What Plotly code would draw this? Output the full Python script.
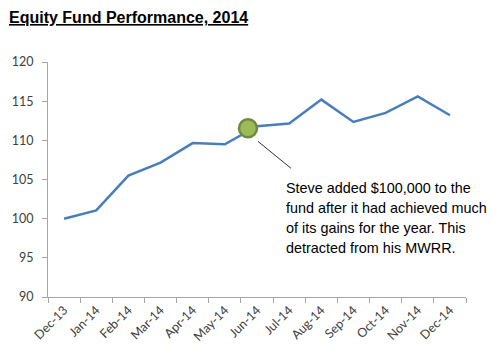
import plotly.graph_objects as go

months = ["Dec-13", "Jan-14", "Feb-14", "Mar-14", "Apr-14", "May-14", "Jun-14",
          "Jul-14", "Aug-14", "Sep-14", "Oct-14", "Nov-14", "Dec-14"]
values = [100.0, 101.05, 105.5, 107.15, 109.65, 109.5, 111.8,
          112.15, 115.2, 112.35, 113.5, 115.6, 113.2]
y_ticks = [90, 95, 100, 105, 110, 115, 120]

# highlighted event (between May and Jun)
event_pos = [5.72]
event_val = [111.55]
note_lines = ["Steve added $100,000 to the",
              "fund after it had achieved much",
              "of its gains for the year. This",
              "detracted from his MWRR."]

fig = go.Figure()
fig.add_trace(go.Scatter(x=months, y=values, mode="lines",
                         line=dict(color="#4a7ebb", width=2.5),
                         hoverinfo="skip", showlegend=False))
fig.add_trace(go.Scatter(x=event_pos, y=event_val, mode="markers", xaxis="x2",
                         marker=dict(size=18, color="#9bbb59",
                                     line=dict(color="#71893f", width=2.5)),
                         showlegend=False))

axis_col = "#a6a6a6"
fig.update_layout(
    width=496, height=347,
    margin=dict(l=40, r=38, t=54, b=58),
    paper_bgcolor="white", plot_bgcolor="white",
    xaxis=dict(type="category", tickson="boundaries", ticks="outside", ticklen=5,
               tickcolor=axis_col, showline=True, linecolor=axis_col, linewidth=1,
               showgrid=False, tickangle=-45, automargin=False,
               tickfont=dict(family="Lato, Liberation Sans, sans-serif", size=12.5, color="#404040"),
               range=[-0.5, 12.5]),
    xaxis2=dict(overlaying="x", range=[-0.5, 12.5], visible=False, automargin=False),
    yaxis=dict(range=[90, 120], tickvals=y_ticks, ticks="outside", ticklen=5,
               tickcolor=axis_col, showline=True, linecolor=axis_col, linewidth=1,
               showgrid=False, zeroline=False, ticklabelstandoff=6, automargin=False,
               tickfont=dict(family="Lato, Liberation Sans, sans-serif", size=12.5, color="#404040")),
    font=dict(family="Liberation Sans, Arial, sans-serif"),
)

fig.add_annotation(text="<u><b>Equity Fund Performance, 2014</b></u>",
                   xref="paper", yref="paper", x=-41/418, y=1 + 45/235,
                   xanchor="left", yanchor="middle", showarrow=False,
                   font=dict(family="Liberation Sans, Arial, sans-serif", size=16, color="black"))

# leader line from marker to note
fig.add_shape(type="line", xref="x2", yref="y", x0=6.03, y0=109.87, x1=7.06, y1=106.42,
              line=dict(color="#333333", width=1))

for i, line in enumerate(note_lines):
    fig.add_annotation(text=line, xref="x2", yref="y", x=6.85, y=103.9 - i * 19.8 / 7.83,
                       xanchor="left", yanchor="middle", showarrow=False, align="left",
                       font=dict(family="Liberation Sans, Arial, sans-serif", size=14.4, color="black"))

fig.write_html("out.html")
